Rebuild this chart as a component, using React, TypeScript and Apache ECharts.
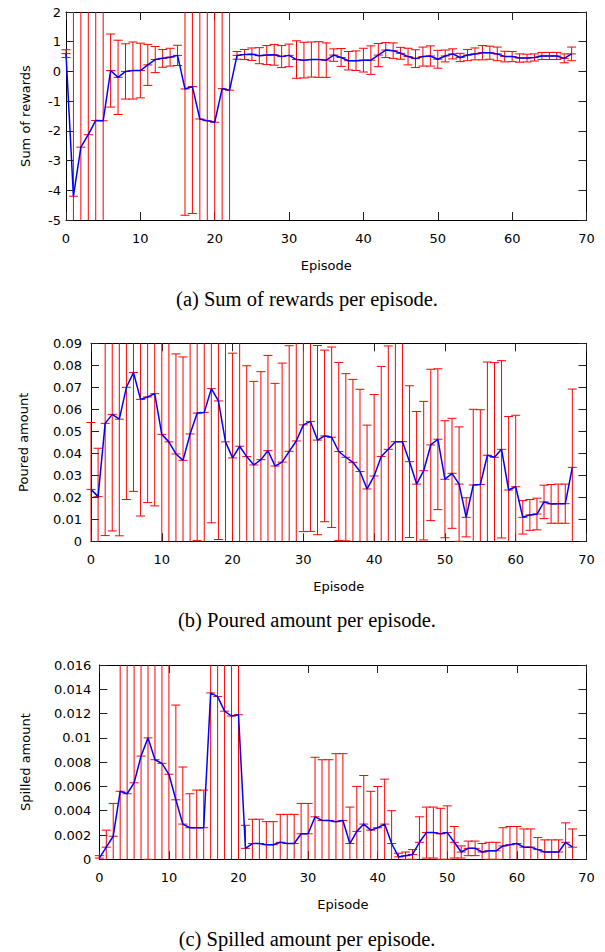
import React, { useEffect, useRef } from "react";
import * as echarts from "echarts";

// Panel (a): sum of rewards per episode
const rewardMean = [
  0.6, -4.2, -2.55, -2.13, -1.65, -1.66, 0.03, -0.2, 0.0, 0.03,
  0.03, 0.22, 0.4, 0.44, 0.48, 0.54, -0.59, -0.51, -1.6, -1.66,
  -1.71, -0.58, -0.63, 0.54, 0.57, 0.58, 0.53, 0.55, 0.56, 0.5,
  0.54, 0.4, 0.38, 0.4, 0.4, 0.38, 0.55, 0.47, 0.36, 0.36,
  0.38, 0.38, 0.55, 0.72, 0.7, 0.61, 0.5, 0.43, 0.5, 0.52,
  0.41, 0.52, 0.59, 0.47, 0.55, 0.59, 0.63, 0.63, 0.59, 0.5,
  0.5, 0.45, 0.45, 0.47, 0.52, 0.52, 0.52, 0.44, 0.59,
];
const rewardErr = [
  0.13, 7, 5, 4.5, 4, 4, 1.23, 1.25, 0.93, 0.96,
  0.92, 0.69, 0.44, 0.3, 0.3, 0.34, 4.25, 4.27, 4, 4,
  4, 5, 5, 0.13, 0.17, 0.21, 0.27, 0.32, 0.35, 0.37,
  0.38, 0.63, 0.6, 0.59, 0.6, 0.58, 0.21, 0.3, 0.31, 0.33,
  0.4, 0.48, 0.39, 0.25, 0.26, 0.2, 0.28, 0.3, 0.32, 0.34,
  0.3, 0.2, 0.17, 0.14, 0.19, 0.2, 0.24, 0.22, 0.23, 0.18,
  0.17, 0.14, 0.13, 0.12, 0.12, 0.12, 0.12, 0.15, 0.23,
];

// Panel (b): poured amount per episode
const pouredMean = [
  0.0236, 0.0203, 0.0536, 0.0577, 0.0555, 0.07, 0.0767, 0.0645, 0.0656, 0.0671,
  0.0486, 0.0452, 0.0397, 0.0368, 0.0488, 0.0583, 0.0586, 0.0694, 0.0638, 0.0452,
  0.0379, 0.0432, 0.0385, 0.0347, 0.0371, 0.0412, 0.0342, 0.036, 0.0409, 0.0456,
  0.0529, 0.0545, 0.046, 0.0479, 0.0473, 0.0408, 0.0382, 0.0359, 0.0317, 0.0238,
  0.0297, 0.0385, 0.0418, 0.0453, 0.0453, 0.0362, 0.026, 0.0321, 0.0438, 0.0464,
  0.0282, 0.0309, 0.026, 0.0109, 0.0256, 0.0258, 0.0391, 0.0382, 0.0418, 0.0233,
  0.0248, 0.0109, 0.012, 0.0124, 0.0179, 0.017, 0.0171, 0.0171, 0.0336,
];
const pouredErr = [
  0.0304, 0.022, 0.051, 0.053, 0.053, 0.051, 0.054, 0.053, 0.048, 0.051,
  0.06, 0.05, 0.0455, 0.047, 0.055, 0.058, 0.06, 0.061, 0.063, 0.05,
  0.0476, 0.05, 0.0413, 0.038, 0.04, 0.0433, 0.0376, 0.045, 0.048, 0.05,
  0.0485, 0.05, 0.043, 0.039, 0.041, 0.0405, 0.038, 0.0377, 0.0374, 0.029,
  0.037, 0.041, 0.047, 0.05, 0.05, 0.0345, 0.033, 0.0315, 0.0344, 0.032,
  0.0266, 0.025, 0.026, 0.0089, 0.0344, 0.034, 0.0424, 0.043, 0.0403, 0.0334,
  0.0325, 0.0076, 0.007, 0.0072, 0.0076, 0.0088, 0.0089, 0.0089, 0.0356,
];

// Panel (c): spilled amount per episode
const spilledMean = [
  0.0001, 0.001, 0.0019, 0.0056, 0.0054, 0.0063, 0.0085, 0.01, 0.0082, 0.0079,
  0.007, 0.0049, 0.0029, 0.0026, 0.0026, 0.0026, 0.0137, 0.0134, 0.0122, 0.0118,
  0.0119, 0.0009, 0.0013, 0.0013, 0.0012, 0.0012, 0.0014, 0.0013, 0.0013, 0.0021,
  0.0021, 0.0035, 0.0032, 0.0032, 0.0031, 0.0032, 0.0013, 0.0023, 0.0029, 0.0024,
  0.0026, 0.0029, 0.0013, 0.0002, 0.0003, 0.0004, 0.0014, 0.0022, 0.0022, 0.0021,
  0.0022, 0.0014, 0.0006, 0.0009, 0.0009, 0.0006, 0.0007, 0.0007, 0.0011, 0.0012,
  0.0013, 0.001, 0.001, 0.0008, 0.0006, 0.0006, 0.0006, 0.0014, 0.001,
];
const spilledErr = [
  0.0002, 0.0014, 0.0027, 0.011, 0.011, 0.011, 0.01, 0.01, 0.01, 0.01,
  0.01, 0.0078, 0.0047, 0.0028, 0.0031, 0.0031, 0.015, 0.015, 0.014, 0.014,
  0.014, 0.0019, 0.002, 0.002, 0.0019, 0.0019, 0.0023, 0.0024, 0.0024, 0.0025,
  0.0025, 0.0049, 0.005, 0.005, 0.0056, 0.0055, 0.003, 0.0037, 0.004, 0.0032,
  0.0034, 0.0037, 0.0027, 0.0003, 0.0003, 0.0004, 0.0021, 0.0021, 0.0021, 0.0021,
  0.0022, 0.0013, 0.0005, 0.0006, 0.0006, 0.0007, 0.0007, 0.0007, 0.0015, 0.0015,
  0.0014, 0.0015, 0.0015, 0.001, 0.001, 0.001, 0.001, 0.0016, 0.0015,
];

const xTicks = { min: 0, max: 70, interval: 10 };
const yNames = ["Sum of rewards", "Poured amount", "Spilled amount"];
const xName = "Episode";
const captions = [
  "(a) Sum of rewards per episode.",
  "(b) Poured amount per episode.",
  "(c) Spilled amount per episode.",
];
const yRanges = [
  { min: -5, max: 2, interval: 1 },
  { min: 0, max: 0.09, interval: 0.01 },
  { min: 0, max: 0.016, interval: 0.002 },
];

const layout = [
  { left: 66, top: 12, width: 520.5, height: 208, labelMargin: 5, nameGap: 34, capY: 299 },
  { left: 91, top: 343.3, width: 495.5, height: 198, labelMargin: 9, nameGap: 61, capY: 620 },
  { left: 99.3, top: 665, width: 487.2, height: 194.3, labelMargin: 8, nameGap: 67, capY: 939 },
];

const FONT = "DejaVu Sans";

function buildOption() {
  const series: any[] = [];
  const xAxis: any[] = [];
  const yAxis: any[] = [];
  const grid: any[] = [];
  const graphic: any[] = [];
  const means = [rewardMean, pouredMean, spilledMean];
  const errs = [rewardErr, pouredErr, spilledErr];

  layout.forEach((L, k) => {
    grid.push({ left: L.left, top: L.top, width: L.width, height: L.height, containLabel: false });
    const line = { show: true, onZero: false, lineStyle: { color: "#000", width: 1 } };
    const tick = { show: true, inside: true, length: 8, lineStyle: { color: "#222", width: 1 } };
    xAxis.push({
      type: "value", gridIndex: k, position: "bottom", ...xTicks,
      axisLine: line, axisTick: tick, splitLine: { show: false },
      axisLabel: { color: "#000", fontFamily: FONT, fontSize: 13, margin: 12 },
      name: xName, nameLocation: "middle", nameGap: 39,
      nameTextStyle: { color: "#000", fontFamily: FONT, fontSize: 13 },
    });
    xAxis.push({
      type: "value", gridIndex: k, position: "top", ...xTicks,
      axisLine: line, axisTick: tick, splitLine: { show: false }, axisLabel: { show: false },
    });
    const yr = yRanges[k];
    yAxis.push({
      type: "value", gridIndex: k, position: "left", ...yr,
      axisLine: line, axisTick: tick, splitLine: { show: false },
      axisLabel: {
        color: "#000", fontFamily: FONT, fontSize: 13, margin: L.labelMargin,
        formatter: (v: number) => String(parseFloat(v.toFixed(4))),
      },
      name: yNames[k], nameLocation: "middle", nameGap: L.nameGap, nameRotate: 90,
      nameTextStyle: { color: "#000", fontFamily: FONT, fontSize: 13 },
    });
    yAxis.push({
      type: "value", gridIndex: k, position: "right", ...yr,
      axisLine: line, axisTick: tick, splitLine: { show: false }, axisLabel: { show: false },
    });

    const m = means[k];
    const e = errs[k];
    const data = m.map((v, i) => [i, v, e[i]]);
    series.push({
      type: "custom",
      xAxisIndex: 2 * k,
      yAxisIndex: 2 * k,
      data,
      encode: { x: 0, y: 1 },
      clip: false,
      z: 3,
      renderItem: (params: any, api: any) => {
        const x = api.value(0);
        const mv = api.value(1);
        const ev = api.value(2);
        const cs = params.coordSys;
        const top = cs.y;
        const bot = cs.y + cs.height;
        const pm = api.coord([x, mv]);
        const ph = api.coord([x, mv + ev]);
        const pl = api.coord([x, mv - ev]);
        const y1 = Math.max(top, ph[1]);
        const y2 = Math.min(bot, pl[1]);
        const st = { stroke: "#ff0000", lineWidth: 1 };
        const children: any[] = [
          { type: "line", shape: { x1: pm[0], y1, x2: pm[0], y2 }, style: st },
        ];
        const w = 4.5;
        [ph[1], pm[1], pl[1]].forEach((yy) => {
          if (yy >= top - 0.5 && yy <= bot + 0.5) {
            children.push({ type: "line", shape: { x1: pm[0] - w, y1: yy, x2: pm[0] + w, y2: yy }, style: st });
          }
        });
        return { type: "group", children };
      },
    });
    series.push({
      type: "line",
      xAxisIndex: 2 * k,
      yAxisIndex: 2 * k,
      data: m.map((v, i) => [i, v]),
      showSymbol: false,
      symbol: "none",
      lineStyle: { color: "#0000ff", width: 1.5 },
      z: 4,
    });

    graphic.push({
      type: "text",
      x: 307,
      y: L.capY,
      style: {
        text: captions[k],
        fontFamily: "Liberation Serif",
        fontSize: 20.5,
        fill: "#000",
        align: "center",
        verticalAlign: "middle",
      },
    });
  });

  return { animation: false, backgroundColor: "#fff", grid, xAxis, yAxis, series, graphic };
}

export default function App() {
  const ref = useRef<HTMLDivElement>(null);
  useEffect(() => {
    if (!ref.current) return;
    const chart = echarts.init(ref.current, undefined, { renderer: "svg" });
    chart.setOption(buildOption() as any);
    return () => chart.dispose();
  }, []);
  return (
    <div
      ref={ref}
      style={{ position: "absolute", left: 0, top: 0, width: 605, height: 952 }}
    />
  );
}
